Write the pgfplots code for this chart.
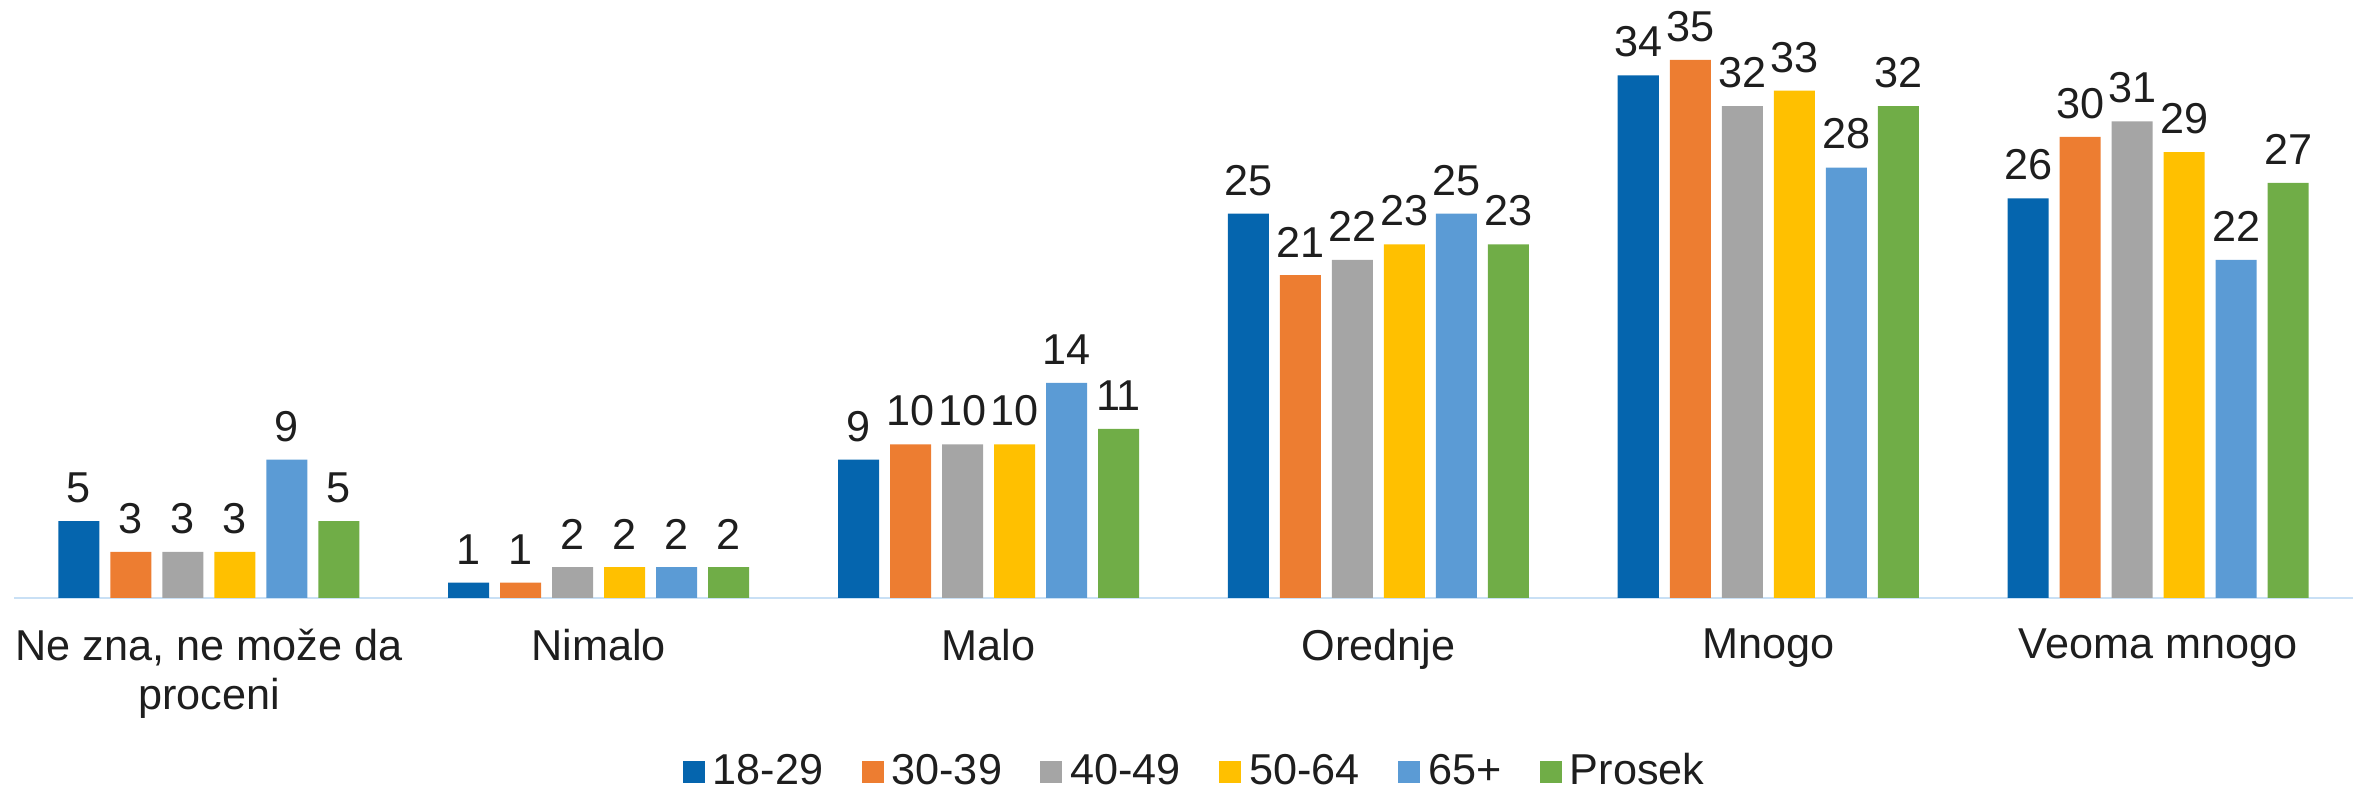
\documentclass[border=0pt]{standalone}
\usepackage{fontspec}
\setmainfont{Liberation Sans}
\usepackage{pgfplots}
\usepackage{pgfplotstable}
\pgfplotsset{compat=1.18}
\definecolor{cA}{HTML}{0565AE}
\definecolor{cB}{HTML}{ED7D31}
\definecolor{cC}{HTML}{A5A5A5}
\definecolor{cD}{HTML}{FFC000}
\definecolor{cE}{HTML}{5B9BD5}
\definecolor{cF}{HTML}{70AD47}
\definecolor{axl}{HTML}{C9E0F5}
\definecolor{txt}{HTML}{1E1E1E}
\pgfplotstableread{
x a b c d e f
0 5 3 3 3 9 5
1 1 1 2 2 2 2
2 9 10 10 10 14 11
3 25 21 22 23 25 23
4 34 35 32 33 28 32
5 26 30 31 29 22 27
}\data
\begin{document}
\begin{tikzpicture}
\useasboundingbox (0,0) rectangle (589.75pt,197.5pt);
\begin{axis}[
  at={(3.5pt,48pt)}, anchor=south west,
  scale only axis, width=584.75pt, height=149.5pt,
  ybar=2.75pt, bar width=10.25pt,
  xmin=-0.5, xmax=5.5, ymin=0, ymax=38.9,
  clip=false,
  axis y line=none, axis x line*=bottom,
  x axis line style={-, color=axl, line width=0.7pt},
  xtick=data, major tick length=0pt,
  xticklabels={{Ne zna, ne može da\\proceni},Nimalo,Malo,Orednje,Mnogo,Veoma mnogo},
  xticklabel style={align=center, font=\fontsize{10.8}{12.3}\selectfont, text=txt, yshift=-4.2pt},
  /pgf/number format/assume math mode=true,
  nodes near coords,
  every node near coord/.append style={font=\fontsize{10.8}{12}\selectfont, text=txt, yshift=1pt},
  legend columns=-1,
  legend style={draw=none, at={(0.506,-0.291)}, anchor=center, font=\fontsize{10.8}{12}\selectfont, text=txt,
    /tikz/every even column/.append style={column sep=7.6pt}},
  legend image code/.code={\fill[#1,draw=none] (0pt,-2.75pt) rectangle (5.5pt,2.75pt);},
]
\addplot[fill=cA, draw=none] table[x=x,y=a] {\data};
\addplot[fill=cB, draw=none] table[x=x,y=b] {\data};
\addplot[fill=cC, draw=none] table[x=x,y=c] {\data};
\addplot[fill=cD, draw=none] table[x=x,y=d] {\data};
\addplot[fill=cE, draw=none] table[x=x,y=e] {\data};
\addplot[fill=cF, draw=none] table[x=x,y=f] {\data};
\legend{18-29,30-39,40-49,50-64,65+,Prosek}
\end{axis}
\end{tikzpicture}
\end{document}
